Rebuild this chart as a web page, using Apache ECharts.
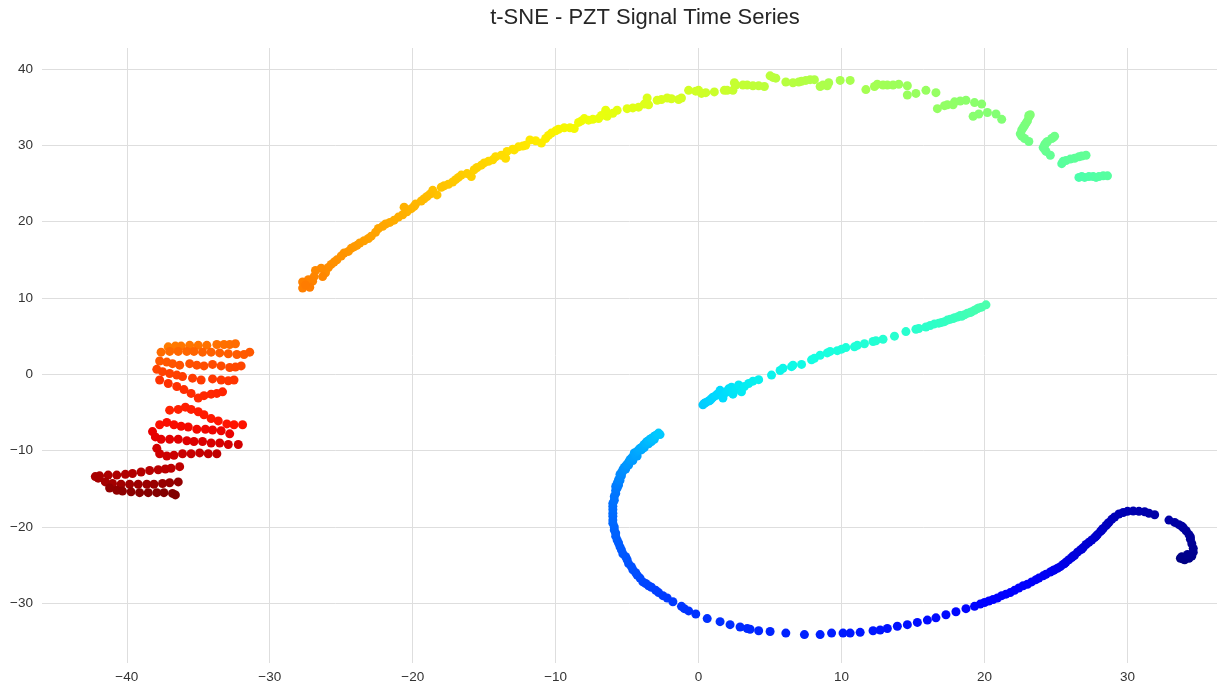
<!DOCTYPE html>
<html>
<head>
<meta charset="utf-8">
<script src="https://cdn.jsdelivr.net/npm/echarts@6/dist/echarts.min.js"></script>
<style>
html,body{margin:0;padding:0;background:#fff;}
#chart{width:1220px;height:689px;}
</style>
</head>
<body>
<div id="chart"></div>
<script>
// ---- data (t-SNE embedding, points in time order) ----
const titleText = 't-SNE - PZT Signal Time Series';
const xTicks = [-40, -30, -20, -10, 0, 10, 20, 30];
const yTicks = [-30, -20, -10, 0, 10, 20, 30, 40];

const navyHook = [[33.7,-24.1],[33.9,-24.2],[34.0,-24.3],[34.1,-24.0],[34.3,-24.1],[33.8,-23.9],[34.5,-23.8],[34.2,-23.6],[34.6,-23.3],[34.6,-22.8],[34.5,-22.2],[34.4,-21.6],[34.4,-21.3],[34.3,-21.0],[34.1,-20.5],[33.9,-20.1],[33.8,-19.9],[33.6,-19.7],[33.3,-19.4],[32.9,-19.1],[31.9,-18.4],[31.5,-18.2],[31.2,-18.0],[30.8,-17.95],[30.4,-17.9],[30.0,-17.95],[29.7,-18.1],[29.4,-18.3],[29.1,-18.7],[28.9,-19.0],[28.7,-19.4],[28.6,-19.6],[28.5,-19.8],[28.3,-20.2],[28.2,-20.4],[28.1,-20.6],[27.9,-21.0],[27.8,-21.2],[27.7,-21.4],[27.5,-21.7],[27.3,-22.0]];

const blueCurve = [[27.1,-22.3],[26.9,-22.7],[26.8,-22.9],[26.7,-23.0],[26.5,-23.3],[26.3,-23.7],[26.2,-23.8],[26.1,-24.0],[25.9,-24.3],[25.7,-24.6],[25.6,-24.8],[25.5,-24.9],[25.3,-25.2],[25.1,-25.4],[24.9,-25.6],[24.8,-25.7],[24.6,-25.9],[24.3,-26.2],[24.1,-26.4],[23.8,-26.7],[23.6,-26.9],[23.3,-27.2],[23.0,-27.5],[22.7,-27.7],[22.4,-28.0],[22.1,-28.3],[21.8,-28.6],[21.5,-28.8],[21.2,-29.0],[20.9,-29.3],[20.6,-29.5],[20.3,-29.7],[20.0,-29.9],[19.7,-30.1],
[19.3,-30.4],[18.7,-30.7],[18.0,-31.1],[17.3,-31.5],[16.6,-31.9],[16.0,-32.2],[15.3,-32.5],[14.6,-32.8],[13.9,-33.0],[13.2,-33.3],[12.7,-33.5],[12.2,-33.6],[11.3,-33.8],[10.6,-33.9],[10.1,-33.9],[9.3,-33.9],
[8.5,-34.1],[7.4,-34.1],[6.1,-33.9],[5.0,-33.7],[4.2,-33.6],[3.6,-33.4],[3.4,-33.3],[2.9,-33.1],[2.2,-32.8],[1.5,-32.4],[0.6,-32.0],[-0.2,-31.4],[-0.7,-31.0],[-1.0,-30.7],[-1.2,-30.4]];

const lightBlueArc = [[-1.8,-29.8],[-2.2,-29.3],[-2.5,-29.0],[-2.8,-28.6],[-3.0,-28.3],[-3.3,-27.9],[-3.5,-27.7],[-3.7,-27.4],[-3.9,-27.2],[-4.1,-26.7],[-4.3,-26.3],[-4.4,-26.0],[-4.6,-25.6],[-4.7,-25.2],[-4.9,-24.8],[-5.0,-24.3],[-5.1,-23.9],[-5.3,-23.5],[-5.4,-23.0],[-5.5,-22.6],[-5.6,-22.1],[-5.7,-21.7],[-5.8,-21.2],[-5.8,-20.8],[-5.9,-20.4],[-5.9,-20.0],[-6.0,-19.5],[-6.0,-19.1],[-6.0,-18.6],[-6.0,-18.2],
[-6.0,-17.7],[-6.0,-17.3],[-6.0,-16.9],[-5.9,-16.5],[-5.9,-16.0],[-5.8,-15.6],[-5.8,-15.2],[-5.7,-14.9],[-5.8,-14.7],[-5.6,-14.5],[-5.7,-14.3],[-5.6,-14.0],[-5.5,-13.9],[-5.6,-13.8],[-5.5,-13.5],[-5.4,-13.3],[-5.5,-13.1],[-5.4,-12.9],[-5.3,-12.7],[-5.3,-12.5],[-5.1,-12.4],[-5.2,-12.2],[-5.1,-12.0],[-4.9,-11.9],[-5.0,-11.8],[-4.9,-11.5],[-4.6,-11.3],[-4.8,-11.2],[-4.7,-11.0],[-4.6,-10.8],[-4.3,-10.7],[-4.4,-10.6],[-4.5,-10.3],[-4.3,-10.1],[-4.0,-9.9],[-4.2,-9.9],[-4.1,-9.7],[-3.8,-9.6],[-3.9,-9.4],[-3.8,-9.2],[-3.5,-9.1],[-3.7,-9.0],[-3.6,-8.8],[-3.3,-8.8],[-3.5,-8.7],[-3.4,-8.5],[-3.1,-8.5],[-3.3,-8.4],[-3.2,-8.3],[-3.1,-8.1],[-3.0,-8.0],[-2.9,-7.9],[-2.7,-7.9],[-2.8,-7.7]];

const cyanLine = [[0.3,-4.0],[0.4,-3.8],[0.5,-3.7],[0.7,-3.5],[0.8,-3.4],[0.9,-3.2],[1.0,-3.0],[1.2,-2.8],[1.3,-2.6],[1.5,-2.1],[1.7,-3.1],[1.9,-2.4],[2.0,-2.2],[2.1,-1.9],[2.3,-1.7],[2.4,-2.6],[2.6,-2.0],[2.8,-1.4],[3.0,-2.3],[3.2,-1.6],[3.5,-1.2],[3.8,-0.9],[4.2,-0.7],[5.1,-0.1],[5.7,0.5],[5.9,0.8],[6.5,1.0],[6.6,1.2],[7.2,1.3],[7.9,1.9],[8.1,2.1],[8.5,2.5],[9.0,2.8],[9.2,3.0],[9.7,3.1],[10.0,3.3],[10.3,3.5],[10.9,3.6],[11.1,3.8],[11.6,4.0],[12.2,4.3],[12.4,4.4],[12.9,4.6],[13.7,5.0],[14.5,5.6],[15.2,5.9],[15.4,6.0],[15.9,6.2],[16.2,6.4],[16.5,6.6],[16.8,6.7],[17.0,6.8],[17.2,6.9],[17.4,7.1],[17.6,7.2],[17.8,7.3],[17.9,7.4],[18.1,7.5],[18.3,7.7],[18.4,7.6],[18.6,7.8],[18.8,8.0],[19.0,8.1],[19.1,8.2],[19.3,8.4],[19.5,8.6],[19.6,8.7],[19.8,8.8],[20.1,9.1]];

const greenArc = [[26.6,25.8],[26.8,25.9],[27.0,25.8],[27.3,25.9],[27.6,25.9],[27.8,25.8],[28.0,25.9],[28.3,26.0],[28.6,26.0],
[25.4,27.6],[25.5,27.9],[25.7,28.0],[26.0,28.2],[26.3,28.3],[26.6,28.5],[26.8,28.6],[27.1,28.7],
[24.6,28.7],[24.3,29.2],[24.2,29.5],[24.1,29.7],[24.2,30.1],[24.3,30.3],[24.4,30.5],[24.7,30.9],[24.8,31.0],[24.9,31.2],
[23.1,30.5],[22.8,30.9],[22.6,31.2],[22.5,31.5],[22.6,32.0],[22.7,32.3],[22.8,32.6],[22.9,32.9],[23.0,33.2],[23.1,33.7],[23.1,33.9],[23.2,34.0],
[21.2,33.4],[20.8,34.1],[20.2,34.3],[19.6,34.1],[19.2,33.8],
[19.8,35.4],[19.3,35.6],[18.7,35.9],[18.3,35.8],[17.9,35.7],[17.8,35.3],[17.4,35.3],[17.2,35.2],[16.7,34.8],
[16.6,36.9],[15.9,37.2],[15.2,36.8],[14.6,36.6],
[14.6,37.8],[14.0,38.0],[13.6,37.9],[13.2,37.9],[12.9,37.9],[12.5,38.0],[12.3,37.7],[11.7,37.3],
[10.6,38.5],[9.9,38.5]];

const yellowArc = [[9.1,38.2],[9.0,37.8],[8.7,37.9],[8.5,37.7],[8.1,38.6],[7.8,38.6],[7.5,38.5],[7.2,38.4],[7.0,38.3],[6.6,38.2],[6.1,38.3],[5.4,38.8],[5.2,38.9],[5.0,39.1],[4.6,37.7],[4.2,37.8],[3.8,37.8],[3.4,37.9],[3.1,37.9],[2.6,37.9],[2.5,38.2],[2.4,37.2],[2.0,37.2],[1.8,37.2],[1.1,37.0],[0.5,36.9],[0.2,36.8],[0.0,37.2],[-0.2,37.1],[-0.7,37.2],[-1.2,36.2],[-1.4,36.0],[-1.9,36.1],[-2.2,36.2],[-2.6,36.0],[-2.9,35.9],[-3.6,36.2],[-3.5,35.3],[-3.8,35.4],[-4.2,35.0],[-4.6,34.9],[-5.0,34.8]];

const orangeArc = [[-5.7,34.6],[-6.0,34.2],[-6.4,33.8],[-6.5,34.6],[-6.8,33.9],[-7.0,33.5],[-7.4,33.4],[-7.7,33.3],[-8.0,33.5],[-8.2,33.2],[-8.4,33.0],[-8.7,32.2],[-9.0,32.3],[-9.4,32.3],[-9.8,32.1],[-10.0,31.9],[-10.3,31.6],[-10.5,31.3],[-10.7,30.9],[-11.0,30.3],[-11.4,30.6],[-11.8,30.7],[-12.1,30.0],[-12.3,29.9],[-12.6,29.8],[-12.9,29.4],[-13.0,29.5],[-13.4,29.2],[-13.5,28.3],[-13.8,28.7],[-14.2,28.5],[-14.4,28.1],[-14.7,27.9],[-15.0,27.7],[-15.2,27.4],[-15.5,27.1],[-15.7,26.8],[-15.9,25.9],[-16.2,26.3],[-16.6,26.1],[-16.8,25.8],[-17.0,25.5],[-17.2,25.2],[-17.5,24.9],[-17.8,24.7],[-18.0,24.5],[-18.3,23.5],[-18.6,24.1],[-18.8,23.6],[-19.0,23.3],[-19.2,23.0],[-19.4,22.7],[-19.8,22.3],[-19.9,22.0],[-20.1,21.7],[-20.4,21.3],[-20.6,21.9],[-20.7,20.9],[-21.0,20.6],[-21.3,20.2],[-21.6,19.9],[-21.9,19.7],[-22.1,19.4],[-22.4,19.1],[-22.6,18.6],[-22.9,18.1],[-23.1,17.8],[-23.4,17.5],[-23.7,17.2],[-23.9,16.9],[-24.1,16.7],[-24.3,16.5],[-24.5,16.1],[-24.8,15.9],[-25.0,15.5],[-25.3,15.0],[-25.5,14.7],[-25.7,14.4],[-25.9,14.0],[-26.1,13.3],[-26.4,13.9],[-26.8,13.6],[-26.3,12.8],[-26.9,12.8],[-27.0,12.2],[-27.3,12.4],[-27.7,12.1],[-27.7,11.3],[-27.2,11.4],[-27.5,11.7]];

const redBlock = [
[-37.1,3.6],[-36.6,3.7],[-36.2,3.7],[-35.6,3.8],[-35.0,3.8],[-34.4,3.8],[-33.7,3.9],[-33.2,3.9],[-32.8,3.9],[-32.4,4.0],
[-37.6,2.9],[-37.0,3.0],[-36.4,3.0],[-35.8,3.0],[-35.3,3.0],[-34.7,2.9],[-34.1,2.9],[-33.5,2.8],[-32.9,2.7],[-32.3,2.6],[-31.8,2.6],[-31.4,2.9],
[-37.7,1.75],[-37.2,1.6],[-36.8,1.4],[-36.3,1.2],[-35.6,1.4],[-35.1,1.2],[-34.6,1.1],[-34.0,1.3],[-33.4,1.1],[-32.8,0.9],[-32.4,0.95],[-32.0,1.1],
[-37.9,0.65],[-37.5,0.35],[-37.0,0.1],[-36.5,-0.1],[-36.1,-0.3],[-35.4,-0.5],[-34.8,-0.75],[-34.0,-0.6],[-33.4,-0.75],[-32.9,-0.85],[-32.5,-0.75],
[-37.7,-0.75],[-37.1,-1.2],[-36.5,-1.6],[-36.0,-2.0],[-35.5,-2.5],[-35.0,-3.1],[-34.6,-2.8],[-34.1,-2.6],[-33.7,-2.5],[-33.3,-2.3],
[-37.0,-4.7],[-36.4,-4.6],[-35.9,-4.3],[-35.5,-4.6],[-35.0,-4.9],[-34.6,-5.3],[-34.1,-5.8],[-33.6,-6.1],[-33.0,-6.5],[-32.5,-6.6],[-31.9,-6.6],
[-37.7,-6.6],[-37.2,-6.3],[-36.7,-6.6],[-36.2,-6.8],[-35.7,-6.9],[-35.1,-7.2],[-34.5,-7.2],[-34.0,-7.3],[-33.4,-7.4],[-32.8,-7.8],
[-38.2,-7.5],[-38.0,-8.2],[-37.6,-8.5],[-37.0,-8.5],[-36.4,-8.5],[-35.8,-8.7],[-35.3,-8.8],[-34.7,-8.8],[-34.1,-9.0],[-33.5,-9.0],[-32.9,-9.2],[-32.2,-9.2],
[-37.9,-9.7],[-37.7,-10.4],[-37.2,-10.7],[-36.7,-10.6],[-36.1,-10.4],[-35.5,-10.4],[-34.9,-10.3],[-34.3,-10.4],[-33.7,-10.4],
[-36.3,-12.1],[-36.9,-12.3],[-37.3,-12.4],[-37.8,-12.5],[-38.4,-12.6],[-39.0,-12.8],[-39.6,-13.0],[-40.1,-13.1],[-40.7,-13.2],[-41.3,-13.2],[-41.9,-13.3],[-42.2,-13.4],
[-42.0,-13.6],[-41.5,-14.1],[-41.0,-14.3],[-40.4,-14.4],[-39.8,-14.4],[-39.2,-14.4],[-38.6,-14.4],[-38.1,-14.4],[-37.5,-14.3],[-37.0,-14.2],[-36.4,-14.1],
[-41.2,-14.9],[-40.7,-15.2],[-40.3,-15.3],[-39.7,-15.4],[-39.1,-15.5],[-38.5,-15.5],[-37.9,-15.5],[-37.4,-15.5],[-36.8,-15.6],[-36.6,-15.8]];

// ---- build time-ordered table: [x, y, timeIndex] ----
const segments = [navyHook, blueCurve, lightBlueArc, cyanLine, greenArc, yellowArc, orangeArc, redBlock];
const points = [];
segments.forEach(seg => seg.forEach(p => points.push([p[0], p[1], points.length])));
const N = points.length;

// matplotlib 'jet' colormap segment data, sampled into evenly spaced stops
const jetR = [[0,0],[0.35,0],[0.66,1],[0.89,1],[1,0.5]];
const jetG = [[0,0],[0.125,0],[0.375,1],[0.64,1],[0.91,0],[1,0]];
const jetB = [[0,0.5],[0.11,1],[0.34,1],[0.65,0],[1,0]];
function seg(ch, t) {
  for (let i = 1; i < ch.length; i++) {
    if (t <= ch[i][0]) {
      const a = ch[i-1], b = ch[i];
      return a[1] + (b[1]-a[1]) * (t - a[0]) / (b[0] - a[0]);
    }
  }
  return ch[ch.length-1][1];
}
const jetStops = [];
for (let i = 0; i <= 200; i++) {
  const t = i / 200;
  const r = Math.round(255*seg(jetR,t)), g = Math.round(255*seg(jetG,t)), b = Math.round(255*seg(jetB,t));
  jetStops.push('rgb(' + r + ',' + g + ',' + b + ')');
}

function fmt(v) {
  const r = Math.round(v / 10) * 10;
  if (Math.abs(v - r) > 1e-6) return '';
  return r < 0 ? '\u2212' + Math.abs(r) : String(r);
}

const font = "'Liberation Sans', Arial, sans-serif";
const chart = echarts.init(document.getElementById('chart'), null, {renderer: 'canvas'});
chart.setOption({
  animation: false,
  backgroundColor: '#ffffff',
  title: {
    text: titleText,
    left: 645,
    top: 7,
    padding: 0,
    textAlign: 'center',
    textStyle: {fontFamily: font, fontSize: 22, fontWeight: 'normal', color: '#262626'}
  },
  grid: {left: 42, top: 48, right: 0, bottom: 26, containLabel: false},
  xAxis: {
    type: 'value',
    min: -45.93, max: 36.26,
    splitNumber: 8, minInterval: 10, maxInterval: 10,
    axisLine: {show: false}, axisTick: {show: false},
    axisLabel: {formatter: fmt, color: '#333333', fontFamily: font, fontSize: 13.5, margin: 7},
    splitLine: {show: true, showMinLine: false, showMaxLine: false, lineStyle: {color: '#dedede', width: 1}}
  },
  yAxis: {
    type: 'value',
    min: -37.82, max: 42.75,
    splitNumber: 8, minInterval: 10, maxInterval: 10,
    axisLine: {show: false}, axisTick: {show: false},
    axisLabel: {formatter: fmt, color: '#333333', fontFamily: font, fontSize: 13.5, margin: 9},
    splitLine: {show: true, showMinLine: false, showMaxLine: false, lineStyle: {color: '#dedede', width: 1}}
  },
  visualMap: {
    type: 'continuous', show: false, dimension: 2,
    min: 0, max: N - 1,
    inRange: {color: jetStops}
  },
  series: [{
    type: 'scatter',
    data: points,
    symbol: 'circle',
    symbolSize: 9,
    itemStyle: {opacity: 1},
    emphasis: {disabled: true}
  }]
});
</script>
</body>
</html>
